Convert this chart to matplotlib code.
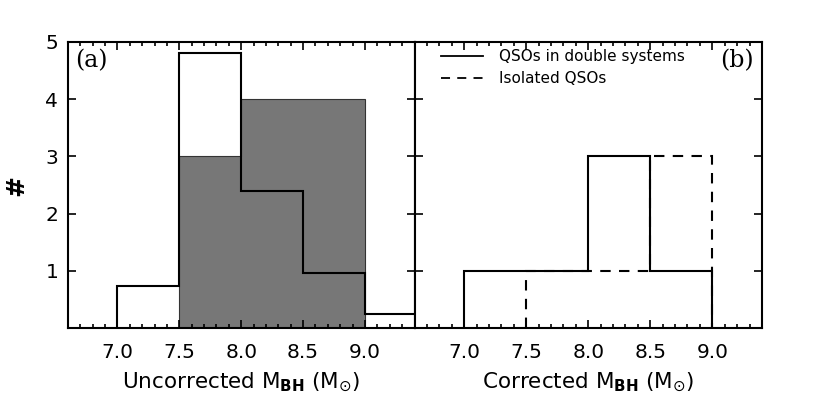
import numpy as np
import matplotlib
matplotlib.use('Agg')
import matplotlib.pyplot as plt
from matplotlib.ticker import MultipleLocator
from matplotlib.lines import Line2D

# panel (a): uncorrected masses
edges_a_all = [7.0, 7.5, 8.0, 8.5, 9.0, 9.5]
counts_a_all = [0.73, 4.80, 2.40, 0.96, 0.24]
edges_a_gray = [7.5, 8.0, 8.5, 9.0]
counts_a_gray = [3, 4, 4]

# panel (b): corrected masses
edges_b_double = [7.0, 7.5, 8.0, 8.5, 9.0]
counts_b_double = [1, 1, 3, 1]
edges_b_iso = [7.5, 8.0, 8.5, 9.0]
counts_b_iso = [1, 1, 3]

xticks = [7.0, 7.5, 8.0, 8.5, 9.0]
xtick_labels = ['7.0', '7.5', '8.0', '8.5', '9.0']
yticks = [1, 2, 3, 4, 5]
legend_labels = ['QSOs in double systems', 'Isolated QSOs']

plt.rcParams['font.family'] = ['DejaVu Sans']
plt.rcParams['mathtext.fontset'] = 'dejavusans'

DASH = (0, (5, 4))


def style_axes(ax, show_ylabels):
    ax.set_xlim(6.6, 9.4)
    ax.set_ylim(0, 5)
    ax.set_xticks(xticks)
    ax.set_xticklabels(xtick_labels)
    ax.xaxis.set_minor_locator(MultipleLocator(0.1))
    ax.set_yticks(yticks)
    if not show_ylabels:
        ax.set_yticklabels([])
    ax.tick_params(which='both', direction='in', top=True, right=True, width=1.2)
    ax.tick_params(which='major', length=5.5, labelsize=14.5)
    ax.tick_params(which='minor', length=2.8)
    ax.tick_params(axis='x', pad=11)
    ax.tick_params(axis='y', pad=7)
    for s in ax.spines.values():
        s.set_linewidth(1.5)


fig = plt.figure(figsize=(8.3, 4.15), dpi=100)
ax1 = fig.add_axes([0.0819, 0.2096, 0.4175, 0.6892])
ax2 = fig.add_axes([0.4994, 0.2096, 0.4186, 0.6892])

# (a)
ax1.stairs(counts_a_gray, edges_a_gray, fill=True, facecolor='#777777',
           edgecolor='#333333', linewidth=0.8, zorder=1)
ax1.stairs(counts_a_all, edges_a_all, baseline=0, color='black', linewidth=1.5, zorder=2)
style_axes(ax1, True)
ax1.set_xlabel(r'Uncorrected M$_{\mathbf{BH}}$ (M$_{\mathrm{⊙}}$)', fontsize=15.5, labelpad=6)
ax1.set_ylabel('#', fontsize=18, fontweight='bold')
ax1.yaxis.set_label_coords(-0.115, 0.5)
ax1.text(0.02, 0.975, '(a)', transform=ax1.transAxes, ha='left', va='top',
         fontsize=17, family='DejaVu Serif')

# (b)
ax2.stairs(counts_b_double, edges_b_double, baseline=0, color='black', linewidth=1.5)
ax2.stairs(counts_b_iso, edges_b_iso, baseline=0, color='black', linewidth=1.5, linestyle=DASH)
style_axes(ax2, False)
ax2.set_xlabel(r'Corrected M$_{\mathbf{BH}}$ (M$_{\mathrm{⊙}}$)', fontsize=15.5, labelpad=6)
ax2.text(0.975, 0.975, '(b)', transform=ax2.transAxes, ha='right', va='top',
         fontsize=17, family='DejaVu Serif')

handles = [Line2D([], [], color='black', linewidth=1.3),
           Line2D([], [], color='black', linewidth=1.3, linestyle=DASH)]
ax2.legend(handles, legend_labels, loc='upper left', bbox_to_anchor=(0.075, 0.975),
           frameon=False, fontsize=11, handlelength=2.8, handletextpad=1.0,
           labelspacing=0.45, borderpad=0, borderaxespad=0)

fig.savefig('out.png', dpi=100)
